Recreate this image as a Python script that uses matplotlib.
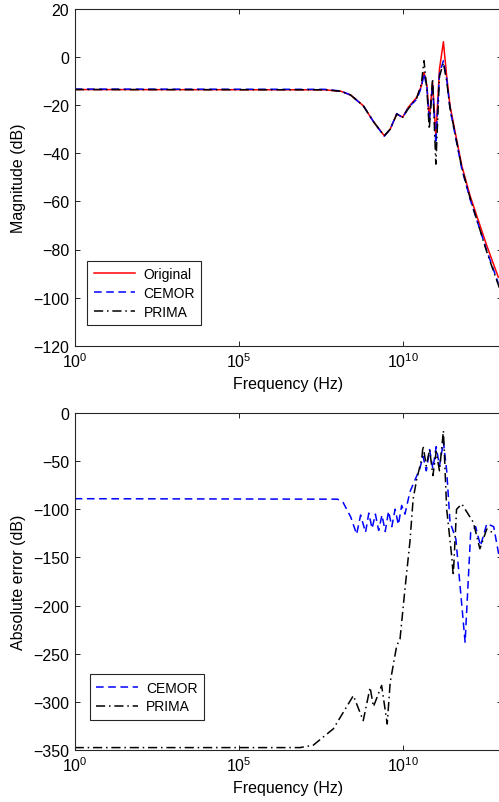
import numpy as np
import matplotlib
matplotlib.use("Agg")
import matplotlib.pyplot as plt
from matplotlib.ticker import FixedLocator

# log10(frequency) and magnitude (dB)
orig_lf = [0.0, 7.6, 8.1, 8.4, 8.78, 9.1, 9.42, 9.6, 9.8, 9.98, 10.15, 10.41, 10.55, 10.63,
           10.72, 10.79, 10.89, 10.99, 11.1, 11.22, 11.32, 11.42, 11.78, 12.03, 12.54, 12.89]
orig_db = [-13.5, -13.6, -14.2, -15.8, -20.2, -27.0, -32.7, -30.0, -23.7, -25.0, -20.9, -16.7,
           -12.0, -6.3, -12.0, -25.7, -10.5, -32.7, -5.0, 6.4, -8.0, -20.2, -45.2, -57.6, -78.4, -91.5]

cemor_lf = [0.0, 7.6, 8.1, 8.4, 8.78, 9.1, 9.42, 9.6, 9.8, 9.98, 10.15, 10.41, 10.55, 10.63,
            10.72, 10.79, 10.89, 10.99, 11.1, 11.22, 11.32, 11.42, 11.78, 12.03, 12.54, 12.89]
cemor_db = [-13.3, -13.4, -14.1, -15.8, -20.2, -27.0, -32.9, -30.0, -23.5, -25.2, -21.0, -17.5,
            -12.5, -6.8, -13.0, -27.0, -11.5, -36.0, -7.0, -1.5, -9.0, -21.5, -46.5, -59.0, -80.5, -94.0]

prima_lf = [0.0, 7.6, 8.1, 8.4, 8.78, 9.1, 9.42, 9.6, 9.8, 9.98, 10.15, 10.41, 10.55, 10.63,
            10.72, 10.79, 10.89, 10.99, 11.1, 11.22, 11.32, 11.42, 11.78, 12.03, 12.54, 12.95]
prima_db = [-13.5, -13.6, -14.2, -15.8, -20.2, -27.0, -32.7, -30.0, -23.7, -25.0, -21.5, -17.0,
            -11.0, -1.5, -14.0, -30.0, -9.0, -44.5, -8.0, -2.5, -10.0, -21.0, -46.0, -58.5, -81.0, -97.0]

# absolute error (dB)
err_c_lf = [0.0, 8.0, 8.17, 8.4, 8.58, 8.7, 8.85, 8.95, 9.05, 9.15, 9.25, 9.35, 9.45, 9.55, 9.65,
            9.75, 9.85, 9.95, 10.05, 10.2, 10.35, 10.5, 10.6, 10.7, 10.8, 10.9, 11.0, 11.1,
            11.22, 11.32, 11.42, 11.6, 11.88, 12.05, 12.2, 12.35, 12.54, 12.75, 12.92]
err_c_db = [-89.0, -89.5, -93.0, -108.0, -126.0, -106.0, -124.0, -104.0, -120.0, -105.0, -122.0,
            -106.0, -123.0, -102.0, -118.0, -100.0, -116.0, -96.0, -105.0, -82.0, -70.0, -58.0,
            -45.0, -60.0, -38.0, -58.0, -35.0, -55.0, -30.0, -60.0, -113.0, -131.0, -238.0,
            -124.0, -118.0, -138.0, -115.0, -118.0, -150.0]

err_p_lf = [0.0, 6.86, 7.26, 7.87, 8.48, 8.78, 8.99, 9.09, 9.34, 9.51, 9.6, 9.8, 9.9, 10.05,
            10.2, 10.3, 10.41, 10.56, 10.6, 10.7, 10.8, 10.9, 11.0, 11.1, 11.22, 11.32,
            11.47, 11.52, 11.62, 11.78, 12.13, 12.33, 12.54, 12.75]
err_p_db = [-347.5, -347.5, -345.0, -328.0, -293.5, -319.5, -285.0, -305.0, -283.0, -323.0,
            -279.7, -241.6, -234.7, -182.8, -134.0, -89.0, -68.5, -47.8, -34.0, -55.0, -38.0,
            -65.0, -40.0, -60.0, -18.4, -100.0, -148.0, -169.0, -100.0, -94.5, -113.5, -141.0,
            -120.5, -125.0]

W, H = 499, 803
fig = plt.figure(figsize=(W / 100, H / 100), dpi=100)
plt.rcParams['font.family'] = ['Liberation Sans', 'DejaVu Sans']
plt.rcParams['mathtext.fontset'] = 'custom'
plt.rcParams['mathtext.rm'] = 'Liberation Sans'

left = 74.7 / W
width = (501.9 - 74.7) / W
ax1 = fig.add_axes([left, (H - 346.7) / H, width, 336.7 / H])
ax2 = fig.add_axes([left, (H - 751.0) / H, width, 337.0 / H])

lw = 1.1
dash = (0, (5, 3))
dashdot = (0, (6, 2.5, 1, 2.5))
ax1.plot(10 ** np.array(orig_lf), orig_db, color='#ff0000', ls='-', lw=lw, label='Original')
ax1.plot(10 ** np.array(cemor_lf), cemor_db, color='#0000ff', ls=dash, lw=lw, label='CEMOR')
ax1.plot(10 ** np.array(prima_lf), prima_db, color='black', ls=dashdot, lw=lw, label='PRIMA')

ax2.plot(10 ** np.array(err_c_lf), err_c_db, color='#0000ff', ls=dash, lw=lw, label='CEMOR')
ax2.plot(10 ** np.array(err_p_lf), err_p_db, color='black', ls=dashdot, lw=lw, label='PRIMA')

fs = 11.5
for ax, ylim, yt, ylab, lpos in [
    (ax1, (-120, 20), np.arange(-120, 21, 20), 'Magnitude (dB)', (0.0295, 0.0615)),
    (ax2, (-350, 0), np.arange(-350, 1, 50), 'Absolute error (dB)', (0.036, 0.09)),
]:
    ax.set_xscale('log')
    ax.set_xlim(1, 1e13)
    ax.set_ylim(*ylim)
    ax.xaxis.set_major_locator(FixedLocator([1, 1e5, 1e10]))
    ax.xaxis.set_minor_locator(FixedLocator([]))
    ax.set_yticks(yt)
    ax.tick_params(direction='in', top=True, right=True, length=3.5, width=0.7,
                   labelsize=fs, pad=4, colors='#262626', labelcolor='black')
    for s in ax.spines.values():
        s.set_linewidth(0.8)
        s.set_color('#262626')
    ax.set_xlabel('Frequency (Hz)', fontsize=fs, labelpad=4)
    ax.set_ylabel(ylab, fontsize=fs, labelpad=5)
    leg = ax.legend(loc='lower left', bbox_to_anchor=lpos, fontsize=10, fancybox=False,
                    framealpha=1, edgecolor='#262626', handlelength=3.0, borderpad=0.45,
                    labelspacing=0.35, handletextpad=0.6, borderaxespad=0)
    leg.get_frame().set_linewidth(0.8)

fig.savefig('out.png', dpi=100)
